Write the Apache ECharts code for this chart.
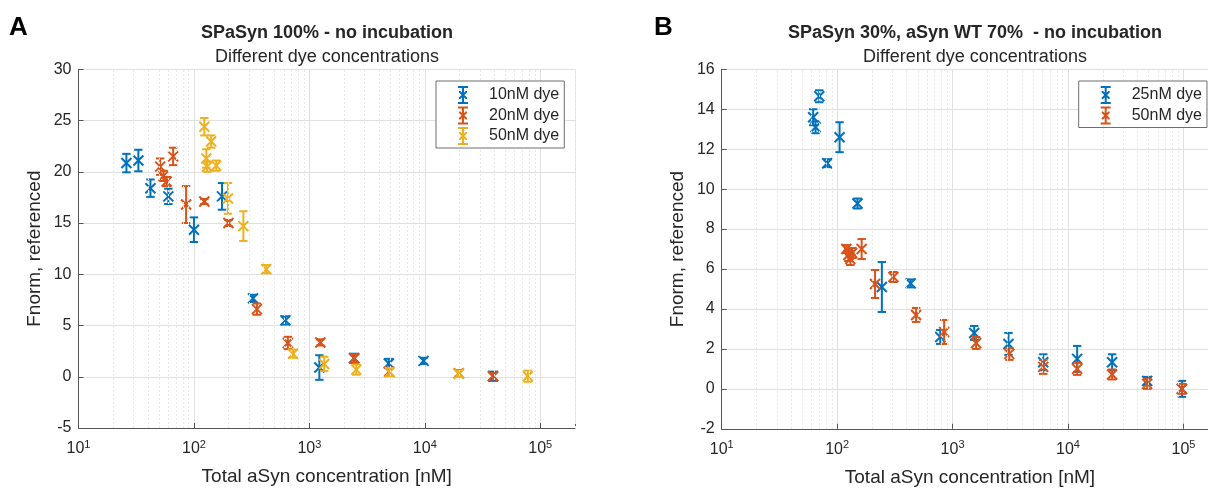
<!DOCTYPE html>
<html>
<head>
<meta charset="utf-8">
<script src="https://cdn.jsdelivr.net/npm/echarts@6/dist/echarts.min.js"></script>
<style>
  html, body { margin: 0; padding: 0; background: #fff; }
  #chart { width: 1208px; height: 489px; }
</style>
</head>
<body>
<div id="chart"></div>
<script>
// Panel A: SPaSyn 100% - three dye concentrations
const concA10 = [26, 33, 42, 60, 100, 175, 325, 620, 1220, 2440, 4880, 9750, 39000];
const fnormA10 = [20.85, 21.1, 18.4, 17.6, 14.35, 17.6, 7.65, 5.5, 0.9, 1.8, 1.3, 1.55, 0.05];
const errA10 = [0.9, 1.05, 0.85, 0.75, 1.2, 1.3, 0.35, 0.4, 1.2, 0.45, 0.45, 0.3, 0.45];

const concA20 = [51, 54.5, 58, 66, 85.5, 123, 199, 351, 651, 1245, 2450, 4900, 19700, 39000];
const fnormA20 = [20.5, 19.6, 19.05, 21.5, 16.8, 17.1, 15.0, 6.6, 3.3, 3.35, 1.8, 0.5, 0.35, 0.05];
const errA20 = [0.8, 0.5, 0.45, 0.85, 1.8, 0.25, 0.3, 0.55, 0.6, 0.3, 0.4, 0.4, 0.3, 0.3];

const concA50 = [123, 141, 128, 130, 156, 197, 268, 423, 722, 1345, 2550, 4970, 19700, 78000];
const fnormA50 = [24.4, 22.95, 21.3, 20.5, 20.6, 17.4, 14.7, 10.5, 2.25, 1.25, 0.7, 0.45, 0.3, 0.05];
const errA50 = [0.85, 0.6, 0.9, 0.5, 0.5, 1.5, 1.45, 0.4, 0.4, 0.7, 0.5, 0.4, 0.3, 0.55];

// Panel B: SPaSyn 30%, aSyn WT 70%
const concB25 = [62, 65, 70, 82, 105, 150, 244, 434, 782, 1540, 3050, 6100, 12000, 24100, 48500, 97000];
const fnormB25 = [13.6, 13.1, 14.65, 11.3, 12.6, 9.28, 5.1, 5.28, 2.6, 2.8, 2.25, 1.33, 1.5, 1.33, 0.4, 0.0];
const errB25 = [0.4, 0.3, 0.3, 0.2, 0.75, 0.25, 1.25, 0.2, 0.35, 0.35, 0.55, 0.4, 0.65, 0.4, 0.2, 0.4];

const concB50 = [120, 125, 130, 135, 163, 213, 307, 483, 845, 1600, 3100, 6100, 12000, 24100, 48500, 97000];
const fnormB50 = [7.0, 6.7, 6.5, 6.8, 7.0, 5.25, 5.6, 3.7, 2.85, 2.3, 1.75, 1.1, 1.0, 0.72, 0.25, 0.0];
const errB50 = [0.2, 0.3, 0.3, 0.25, 0.5, 0.7, 0.25, 0.35, 0.6, 0.3, 0.3, 0.35, 0.3, 0.25, 0.25, 0.25];

// axis ticks
const xTicks = [10, 100, 1000, 10000, 100000];
const yTicksA = [-5, 0, 5, 10, 15, 20, 25, 30];
const yTicksB = [-2, 0, 2, 4, 6, 8, 10, 12, 14, 16];

const BLUE = "#0072BD";
const ORANGE = "#D95319";
const YELLOW = "#EDB120";
const FONT = "Liberation Sans, Arial, Helvetica, sans-serif";
const TXT = "#262626";

// minor log grid lines (2..9 of each decade)
const xMinor = [];
xTicks.forEach((d) => {
  for (let k = 2; k <= 9; k++) {
    if (d * k <= 200000) xMinor.push(d * k);
  }
});

const rows = (c, f, e) => c.map((v, i) => [v, f[i], e[i]]);

// errorbar with caps and an 'x' marker, like matlab errorbar(...,'x')
const errorBar = (color) => (params, api) => {
  const x = api.value(0), y = api.value(1), e = api.value(2);
  const c = api.coord([x, y]);
  const hi = api.coord([x, y + e]);
  const lo = api.coord([x, y - e]);
  const cap = 4.2, m = 5;
  const style = { stroke: color, lineWidth: 2, fill: null };
  return {
    type: "group",
    children: [
      { type: "line", shape: { x1: c[0], y1: hi[1], x2: c[0], y2: lo[1] }, style },
      { type: "line", shape: { x1: c[0] - cap, y1: hi[1], x2: c[0] + cap, y2: hi[1] }, style },
      { type: "line", shape: { x1: c[0] - cap, y1: lo[1], x2: c[0] + cap, y2: lo[1] }, style },
      { type: "line", shape: { x1: c[0] - m, y1: c[1] - m, x2: c[0] + m, y2: c[1] + m }, style },
      { type: "line", shape: { x1: c[0] - m, y1: c[1] + m, x2: c[0] + m, y2: c[1] - m }, style },
    ],
  };
};

const ebSeries = (name, data, color, idx) => ({
  name,
  type: "custom",
  xAxisIndex: idx,
  yAxisIndex: idx,
  renderItem: errorBar(color),
  itemStyle: { color },
  encode: { x: 0, y: 1 },
  data,
  z: 3,
});

// invisible series carrying the dotted minor grid
const minorGrid = (idx) => ({
  type: "line",
  xAxisIndex: idx,
  yAxisIndex: idx,
  data: [],
  silent: true,
  z: 1,
  markLine: {
    silent: true,
    symbol: "none",
    label: { show: false },
    lineStyle: { type: [2, 2], color: "#e8e8e8", width: 1 },
    data: xMinor.map((v) => ({ xAxis: v })),
    animation: false,
  },
});

const ICON =
  "path://M0,0H10V2H0Z M4,0H6V18H4Z M0,16H10V18H0Z M1,5H2.4L9,11.6V13H7.6L1,6.4Z M9,5V6.4L2.4,13H1V11.6L7.6,5Z";

const xAxis = (idx) => ({
  gridIndex: idx,
  type: "log",
  logBase: 10,
  min: 10,
  max: 200000,
  name: "Total aSyn concentration [nM]",
  nameLocation: "middle",
  nameGap: 39,
  nameTextStyle: { fontSize: 19, color: TXT, fontFamily: FONT },
  axisLine: { onZero: false, lineStyle: { color: "#555", width: 1 } },
  axisTick: { inside: true, length: 5, lineStyle: { color: "#555" } },
  splitLine: { show: true, lineStyle: { color: "#e0e0e0", width: 1 } },
  axisLabel: {
    margin: 11,
    color: TXT,
    fontFamily: FONT,
    formatter: (v) => {
      const e = Math.log10(v);
      if (Math.abs(e - Math.round(e)) > 1e-6) return "";
      if (!xTicks.includes(Math.round(v))) return "";
      return "{b|10}{s|" + Math.round(e) + "}";
    },
    rich: {
      b: { fontSize: 16, color: TXT, fontFamily: FONT },
      s: { fontSize: 11, color: TXT, fontFamily: FONT, padding: [0, 0, 9, 0] },
    },
  },
});

const yAxis = (idx, ticks) => ({
  gridIndex: idx,
  type: "value",
  min: ticks[0],
  max: ticks[ticks.length - 1],
  interval: ticks[1] - ticks[0],
  name: "Fnorm, referenced",
  nameLocation: "middle",
  nameRotate: 90,
  nameGap: 34,
  nameTextStyle: { fontSize: 19, color: TXT, fontFamily: FONT },
  axisLine: { show: true, onZero: false, lineStyle: { color: "#555", width: 1 } },
  axisTick: { show: true, inside: true, length: 5, lineStyle: { color: "#555" } },
  splitLine: { show: true, lineStyle: { color: "#e0e0e0", width: 1 } },
  axisLabel: { margin: 7, fontSize: 16, color: TXT, fontFamily: FONT },
});

const legend = (left, items) => ({
  left,
  top: 81,
  orient: "vertical",
  selectedMode: false,
  backgroundColor: "#fff",
  borderColor: "#6e6e6e",
  borderWidth: 1,
  borderRadius: 0,
  padding: [5, 5, 3, 22],
  itemWidth: 10,
  itemHeight: 18,
  itemGap: 2.5,
  textStyle: { fontSize: 16, color: TXT, fontFamily: FONT, padding: [0, 0, 0, 16] },
  data: items.map(([name, color]) => ({ name, icon: ICON, itemStyle: { color, borderWidth: 0 } })),
  z: 10,
});

const title = (x, text) => ({
  text,
  subtext: "Different dye concentrations",
  left: x,
  textAlign: "center",
  top: 18,
  itemGap: 4,
  textStyle: { fontSize: 18, fontWeight: "bold", color: TXT, fontFamily: FONT, lineHeight: 20 },
  subtextStyle: { fontSize: 18, color: TXT, fontFamily: FONT, lineHeight: 20 },
});

const chart = echarts.init(document.getElementById("chart"));
chart.setOption({
  animation: false,
  backgroundColor: "#fff",
  title: [
    title(322, "SPaSyn 100% - no incubation"),
    title(970, "SPaSyn 30%, aSyn WT 70%  - no incubation"),
  ],
  grid: [
    { left: 78.5, top: 69.3, width: 496.5, height: 358.7, outerBoundsMode: "none" },
    { left: 721.7, top: 69.3, width: 496.5, height: 359.5, outerBoundsMode: "none" },
  ],
  xAxis: [xAxis(0), xAxis(1)],
  yAxis: [yAxis(0, yTicksA), yAxis(1, yTicksB)],
  legend: [
    legend(436, [["10nM dye", BLUE], ["20nM dye", ORANGE], ["50nM dye", YELLOW]]),
    legend(1078.7, [["25nM dye", BLUE], ["50nM dye", ORANGE]]),
  ],
  graphic: [
    { type: "text", left: 9, top: 15, style: { text: "A", fontSize: 26, fontWeight: "bold", fill: "#000", fontFamily: FONT } },
    { type: "text", left: 654, top: 15, style: { text: "B", fontSize: 26, fontWeight: "bold", fill: "#000", fontFamily: FONT } },
  ],
  series: [
    minorGrid(0),
    minorGrid(1),
    ebSeries("10nM dye", rows(concA10, fnormA10, errA10), BLUE, 0),
    ebSeries("20nM dye", rows(concA20, fnormA20, errA20), ORANGE, 0),
    ebSeries("50nM dye", rows(concA50, fnormA50, errA50), YELLOW, 0),
    ebSeries("25nM dye", rows(concB25, fnormB25, errB25), BLUE, 1),
    ebSeries("50nM dye", rows(concB50, fnormB50, errB50), ORANGE, 1),
  ],
});
</script>
</body>
</html>
